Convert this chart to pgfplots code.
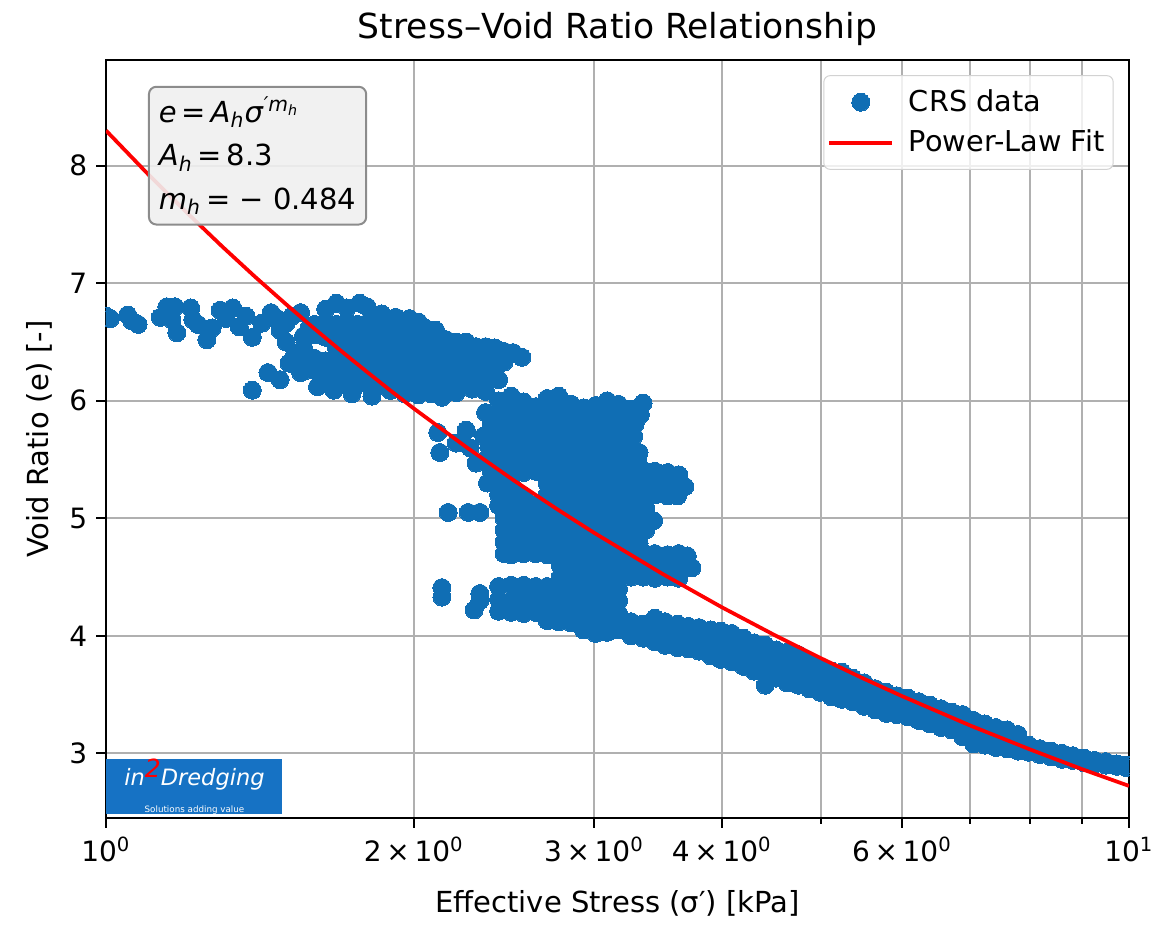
\documentclass[border=0pt]{standalone}
\usepackage{pgfplots}
\pgfplotsset{compat=1.18}
\usepackage{fontspec}
\setmainfont{DejaVu Sans}
\definecolor{scblue}{RGB}{16,110,180}
\definecolor{logoblue}{RGB}{22,114,196}
\definecolor{gridgray}{RGB}{176,176,176}
\definecolor{boxfill}{RGB}{240,240,240}
\definecolor{boxedge}{RGB}{140,140,140}
\begin{document}
\begin{tikzpicture}
\begin{axis}[
  scale only axis,
  width=409.2pt, height=303.2pt,
  xmode=log, log basis x=10,
  xmin=1, xmax=10, ymin=2.45, ymax=8.9,
  xtick={1,2,3,4,6,10},
  xticklabels={{\mbox{10\textsuperscript{0}}},{\mbox{2\,×\,10\textsuperscript{0}}},{\mbox{3\,×\,10\textsuperscript{0}}},{\mbox{4\,×\,10\textsuperscript{0}}},{\mbox{6\,×\,10\textsuperscript{0}}},{\mbox{10\textsuperscript{1}}}},
  minor xtick={5,7,8,9},
  ytick={3,4,5,6,7,8},
  tick pos=left,
  tick align=outside,
  major tick length=4pt, minor tick length=2.4pt,
  tick style={black, line width=0.8pt},
  xmajorgrids, xminorgrids, ymajorgrids,
  grid style={gridgray, line width=0.8pt},
  axis line style={line width=0.8pt},
  /pgf/number format/assume math mode=true,
  tick label style={font=\fontsize{11.2}{13}\selectfont},
  label style={font=\fontsize{11.6}{14}\selectfont},
  xlabel style={yshift=-4.5pt},
  title={Stress–Void Ratio Relationship},
  title style={font=\fontsize{13.8}{16}\selectfont, yshift=-4pt},
  xlabel={Effective Stress (σ′) [kPa]},
  ylabel={Void Ratio (e) [-]},
  clip marker paths=true,
  legend image code/.code={\draw[mark repeat=2,mark phase=2,#1,opacity=1,fill opacity=1,draw opacity=1] plot coordinates {(0cm,0cm) (0.44cm,0cm) (0.88cm,0cm)};},
  legend style={at={(0.985,0.98)}, anchor=north east, draw=gray!35, rounded corners=2.5pt, fill=white, fill opacity=0.8, text opacity=1, font=\fontsize{11.5}{13.5}\selectfont, inner xsep=1.5pt, inner ysep=3.5pt, row sep=2pt, /tikz/every odd column/.append style={column sep=4pt}},
  legend cell align=left,
]
\addplot[only marks, mark=*, mark size=3.6pt, color=scblue, mark options={draw=scblue, fill=scblue, line width=0pt}] coordinates {
(1.00,6.72) (1.01,6.70) (1.05,6.73) (1.06,6.68) (1.075,6.65) (1.13,6.71) (1.147,6.80) (1.168,6.80) (1.173,6.58) (1.16,6.69)
(1.21,6.79) (1.216,6.69) (1.23,6.65) (1.255,6.52) (1.27,6.62) (1.293,6.77) (1.31,6.70) (1.33,6.79) (1.35,6.63) (1.37,6.72)
(1.39,6.54) (1.42,6.66) (1.45,6.75) (1.47,6.70) (1.48,6.60) (1.50,6.66) (1.52,6.72) (1.55,6.75) (1.51,6.32) (1.44,6.24)
(1.39,6.09) (1.48,6.18) (1.55,6.24) (1.53,6.40) (1.50,6.50) (1.56,6.55) (1.58,6.62) (1.61,6.12) (1.67,6.09) (1.68,6.83)
(1.77,6.83) (1.82,6.12) (1.895,6.09)
(1.64,6.78) (1.72,6.79) (1.80,6.80) (1.86,6.74) (1.92,6.71) (1.98,6.70) (2.02,6.67)
(1.60,6.65) (1.64,6.66) (1.68,6.65) (1.72,6.67) (1.76,6.65) (1.80,6.66) (1.84,6.64) (1.88,6.66) (1.92,6.64) (1.96,6.65) (2.00,6.63) (2.05,6.62) (2.10,6.60)
(1.56,6.55) (1.60,6.56) (1.64,6.54) (1.68,6.55) (1.72,6.56) (1.76,6.54) (1.80,6.55) (1.84,6.56) (1.88,6.54) (1.92,6.55) (1.96,6.56) (2.00,6.54) (2.05,6.55) (2.10,6.54) (2.15,6.52) (2.20,6.50) (2.25,6.50)
(1.56,6.45) (1.68,6.45) (1.72,6.44) (1.76,6.46) (1.80,6.45) (1.84,6.44) (1.88,6.46) (1.92,6.45) (1.96,6.44) (2.00,6.45) (2.05,6.46) (2.10,6.44) (2.15,6.45) (2.20,6.44) (2.25,6.45) (2.30,6.46) (2.35,6.46) (2.40,6.45) (2.45,6.42) (2.50,6.41) (2.55,6.37)
(1.56,6.35) (1.60,6.36) (1.64,6.34) (1.68,6.35) (1.72,6.36) (1.76,6.34) (1.80,6.35) (1.84,6.36) (1.88,6.34) (1.92,6.35) (1.96,6.36) (2.00,6.34) (2.05,6.35) (2.10,6.36) (2.15,6.34) (2.20,6.35) (2.25,6.36) (2.30,6.34) (2.35,6.35) (2.40,6.35) (2.45,6.33)
(1.56,6.25) (1.60,6.26) (1.64,6.24) (1.68,6.25) (1.72,6.26) (1.76,6.24) (1.80,6.25) (1.84,6.26) (1.88,6.24) (1.92,6.25) (1.96,6.26) (2.00,6.24) (2.05,6.25) (2.10,6.26) (2.15,6.24) (2.20,6.25) (2.25,6.26) (2.30,6.24) (2.35,6.25) (2.40,6.25)
(1.64,6.15) (1.70,6.16) (1.76,6.14) (1.80,6.15) (1.84,6.16) (1.88,6.14) (1.92,6.15) (1.96,6.16) (2.00,6.14) (2.05,6.15) (2.10,6.16) (2.15,6.14) (2.20,6.15) (2.25,6.16) (2.30,6.15) (2.35,6.16) (2.42,6.18)
(1.67,6.09) (1.74,6.06) (1.82,6.04) (1.90,6.09) (1.96,6.06) (2.02,6.05) (2.08,6.06) (2.13,6.03) (2.20,6.07) (2.28,6.10) (2.35,6.08)
(2.11,5.73) (2.12,5.56) (2.25,5.75) (2.30,5.47) (2.20,5.64) (2.27,5.60) (2.16,5.05) (2.26,5.05) (2.32,5.05) (2.13,4.41) (2.13,4.33) (2.29,4.22) (2.32,4.36) (2.32,4.30)
(2.42,6.00) (2.49,6.04) (2.56,5.99) (2.63,5.95) (2.70,6.02) (2.77,6.04) (2.85,5.97) (2.93,5.94) (3.01,5.96) (3.09,6.00) (3.17,5.97) (3.26,5.93) (3.35,5.98)
(2.35,5.90) (2.42,5.91) (2.49,5.90) (2.56,5.89) (2.63,5.90) (2.70,5.91) (2.77,5.90) (2.85,5.89) (2.93,5.90) (3.01,5.91) (3.09,5.90) (3.17,5.89) (3.26,5.90) (3.33,5.88)
(2.38,5.80) (2.42,5.80) (2.49,5.81) (2.56,5.80) (2.63,5.79) (2.70,5.80) (2.77,5.81) (2.85,5.80) (2.93,5.79) (3.01,5.80) (3.09,5.81) (3.17,5.80) (3.26,5.79) (3.29,5.80)
(2.34,5.70) (2.42,5.71) (2.49,5.70) (2.56,5.69) (2.63,5.70) (2.70,5.71) (2.77,5.70) (2.85,5.69) (2.93,5.70) (3.01,5.71) (3.09,5.70) (3.17,5.69) (3.28,5.70)
(2.37,5.60) (2.42,5.59) (2.49,5.60) (2.56,5.61) (2.63,5.60) (2.70,5.59) (2.77,5.60) (2.85,5.61) (2.93,5.60) (3.01,5.59) (3.09,5.60) (3.17,5.61) (3.26,5.60) (3.32,5.56)
(2.35,5.50) (2.42,5.50) (2.49,5.51) (2.56,5.50) (2.63,5.49) (2.70,5.50) (2.77,5.51) (2.85,5.50) (2.93,5.49) (3.01,5.50) (3.09,5.51) (3.17,5.50) (3.26,5.49) (3.31,5.50)
(2.38,5.40) (2.42,5.41) (2.49,5.40) (2.56,5.39) (2.63,5.40) (2.70,5.41) (2.77,5.40) (2.85,5.39) (2.93,5.40) (3.01,5.41) (3.09,5.40) (3.17,5.39) (3.26,5.40) (3.35,5.41) (3.44,5.40) (3.54,5.39) (3.63,5.37)
(2.36,5.30) (2.42,5.31) (2.49,5.30) (2.70,5.30) (2.77,5.31) (2.85,5.30) (2.93,5.29) (3.01,5.30) (3.09,5.31) (3.17,5.30) (3.26,5.29) (3.35,5.30) (3.44,5.31) (3.54,5.30) (3.63,5.29) (3.68,5.27)
(2.42,5.20) (2.49,5.21) (2.56,5.19) (2.70,5.20) (2.77,5.21) (2.85,5.20) (2.93,5.19) (3.01,5.20) (3.09,5.21) (3.17,5.20) (3.26,5.19) (3.35,5.20) (3.44,5.20) (3.54,5.19) (3.62,5.19)
(2.42,5.11) (2.49,5.10) (2.56,5.10) (2.63,5.11) (2.70,5.10) (2.77,5.09) (2.85,5.10) (2.93,5.11) (3.01,5.10) (3.09,5.09) (3.17,5.10) (3.26,5.11) (3.35,5.10) (3.37,5.08)
(2.45,5.00) (2.49,4.99) (2.56,5.00) (2.63,5.01) (2.70,5.00) (2.77,4.99) (2.85,5.00) (2.93,5.01) (3.01,5.00) (3.09,4.99) (3.17,5.00) (3.26,5.01) (3.35,5.00) (3.43,4.98)
(2.45,4.90) (2.49,4.91) (2.56,4.90) (2.63,4.89) (2.70,4.90) (2.77,4.91) (2.85,4.90) (2.93,4.89) (3.01,4.90) (3.09,4.91) (3.17,4.90) (3.26,4.89) (3.37,4.90)
(2.45,4.80) (2.49,4.80) (2.56,4.81) (2.63,4.80) (2.70,4.79) (2.77,4.80) (2.85,4.81) (2.93,4.80) (3.01,4.79) (3.09,4.80) (3.17,4.81) (3.26,4.80) (3.32,4.79)
(2.45,4.70) (2.49,4.69) (2.56,4.70) (2.63,4.70) (2.70,4.69) (2.77,4.72) (2.85,4.71) (2.93,4.70) (3.01,4.71) (3.09,4.70) (3.17,4.71) (3.26,4.70) (3.35,4.71) (3.44,4.70) (3.54,4.69) (3.63,4.70) (3.70,4.68)
(2.78,4.60) (2.85,4.61) (2.93,4.60) (3.01,4.59) (3.09,4.60) (3.17,4.61) (3.26,4.60) (3.35,4.59) (3.44,4.60) (3.54,4.60) (3.63,4.59) (3.74,4.58)
(2.78,4.50) (2.85,4.49) (2.93,4.50) (3.01,4.51) (3.09,4.50) (3.17,4.49) (3.26,4.50) (3.35,4.50) (3.44,4.49) (3.54,4.50) (3.63,4.49)
(2.42,4.42) (2.49,4.43) (2.56,4.43) (2.63,4.42) (2.70,4.42) (2.77,4.40) (2.85,4.41) (2.93,4.40) (3.01,4.39) (3.09,4.40) (3.17,4.40)
(2.42,4.31) (2.49,4.30) (2.56,4.31) (2.63,4.31) (2.70,4.30) (2.77,4.29) (2.85,4.30) (2.93,4.31) (3.01,4.30) (3.09,4.29) (3.17,4.30)
(2.42,4.21) (2.49,4.20) (2.56,4.19) (2.63,4.20) (2.70,4.21) (2.77,4.20) (2.85,4.19) (2.93,4.20) (3.01,4.21) (3.09,4.20) (3.17,4.19)
(2.70,4.13) (2.77,4.12) (2.85,4.11) (2.93,4.12) (3.01,4.11) (3.09,4.12) (3.17,4.12) (3.26,4.12) (3.35,4.10)
(2.93,4.05) (3.01,4.02) (3.09,4.03) (3.17,4.05) (3.26,4.00) (3.35,3.98)
(3.44,3.95) (3.44,4.05) (3.44,4.15) (3.52,3.92) (3.52,4.02) (3.52,4.12) (3.62,3.90) (3.62,4.00) (3.62,4.10)
(3.71,3.89) (3.71,3.99) (3.71,4.08) (3.80,3.87) (3.80,3.97) (3.80,4.07) (3.90,3.83) (3.90,3.93) (3.90,4.05)
(3.99,3.80) (3.99,3.92) (3.99,4.04) (4.09,3.78) (4.09,3.90) (4.09,4.02) (4.20,3.74) (4.20,3.86) (4.20,3.98)
(4.30,3.70) (4.30,3.82) (4.30,3.94) (4.41,3.58) (4.41,3.68) (4.41,3.80) (4.41,3.92) (4.52,3.64) (4.52,3.76) (4.52,3.88)
(4.63,3.60) (4.63,3.72) (4.63,3.86) (4.75,3.58) (4.75,3.70) (4.75,3.84) (4.87,3.55) (4.87,3.67) (4.87,3.78)
(4.99,3.52) (4.99,3.64) (4.99,3.74) (5.12,3.48) (5.12,3.60) (5.12,3.70) (5.24,3.46) (5.24,3.58) (5.24,3.69)
(5.37,3.44) (5.37,3.55) (5.37,3.64) (5.51,3.40) (5.51,3.50) (5.51,3.60) (5.65,3.37) (5.65,3.47) (5.65,3.55)
(5.79,3.34) (5.79,3.44) (5.79,3.52) (5.93,3.33) (5.93,3.42) (5.93,3.49) (6.08,3.31) (6.08,3.40) (6.08,3.47)
(6.23,3.28) (6.23,3.37) (6.23,3.44) (6.39,3.25) (6.39,3.34) (6.39,3.41) (6.55,3.22) (6.55,3.30) (6.55,3.38)
(6.71,3.20) (6.71,3.28) (6.71,3.35) (6.88,3.14) (6.88,3.24) (6.88,3.33) (7.05,3.08) (7.05,3.18) (7.05,3.28)
(7.23,3.07) (7.23,3.16) (7.23,3.25) (7.41,3.05) (7.41,3.13) (7.41,3.22) (7.60,3.04) (7.60,3.12) (7.60,3.20)
(7.79,3.02) (7.79,3.09) (7.79,3.16) (7.98,3.01) (7.98,3.07) (8.18,2.99) (8.18,3.04) (8.39,2.97) (8.39,3.02)
(8.60,2.95) (8.60,3.00) (8.81,2.94) (8.81,2.98) (9.04,2.92) (9.04,2.96) (9.26,2.91) (9.26,2.94)
(9.49,2.90) (9.49,2.93) (9.73,2.89) (9.73,2.91) (9.93,2.88) (9.93,2.90)
};
\addlegendentry{CRS data}
\addplot[red, line width=1.5pt, no markers] coordinates {
(1,8.300) (1.1,7.926) (1.2,7.600) (1.3,7.310) (1.4,7.052) (1.5,6.821) (1.6,6.611) (1.7,6.420) (1.8,6.245) (1.9,6.083)
(2,5.934) (2.25,5.606) (2.5,5.327) (2.75,5.087) (3,4.877) (3.5,4.527) (4,4.243) (4.5,4.008) (5,3.809) (5.5,3.637)
(6,3.487) (7,3.236) (8,3.034) (9,2.865) (10,2.723)
};
\addlegendentry{Power-Law Fit}
\node[anchor=north west, draw=boxedge, fill=boxfill, fill opacity=0.9, text opacity=1, rounded corners=3pt, line width=0.8pt, align=left, inner xsep=4pt, inner ysep=4pt, font=\fontsize{11.6}{17.4}\selectfont] at (rel axis cs:0.041,0.966)
{\textit{e}\,=\,\textit{A}\textsubscript{\textit{h}}\textit{σ}\textsuperscript{\textit{′m}\textsubscript{\textit{h}}}\\
\textit{A}\textsubscript{\textit{h}}\,=\,8.3\\
\textit{m}\textsubscript{\textit{h}}\,=\ −\ 0.484};
\node[anchor=south west, fill=logoblue, minimum width=70.4pt, minimum height=20pt, inner sep=0pt, text=white, align=center] at (rel axis cs:0,0.004)
{{\fontsize{9}{9}\selectfont\itshape in\raisebox{3pt}{\textcolor{red}{\fontsize{10}{10}\selectfont 2}}Dredging}\\[-1pt]{\fontsize{3.5}{4}\selectfont Solutions adding value}};
\end{axis}
\path ([xshift=-42.4pt,yshift=-50.4pt]current axis.south west) rectangle ([xshift=17.6pt,yshift=24pt]current axis.north east);
\end{tikzpicture}
\end{document}
